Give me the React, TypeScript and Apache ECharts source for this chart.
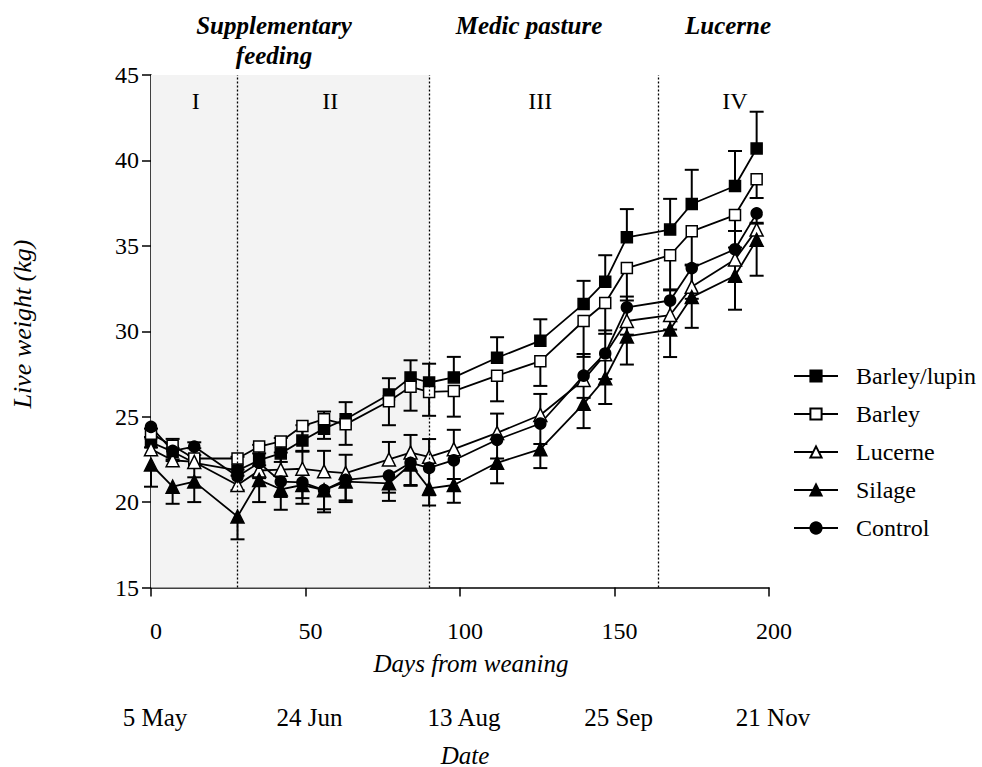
import React, { useEffect, useRef } from "react";
import * as echarts from "echarts";

const days = [0, 7, 14, 28, 35, 42, 49, 56, 63, 77, 84, 90, 98, 112, 126, 140, 147, 154, 168, 175, 189, 196];

const barleyLupin = [23.5, 22.95, 22.3, 21.85, 22.45, 22.85, 23.6, 24.3, 24.85, 26.3, 27.3, 27.0, 27.3, 28.45, 29.45, 31.6, 32.9, 35.5, 35.95, 37.45, 38.5, 40.7];
const barley = [24.0, 23.3, 22.55, 22.55, 23.25, 23.55, 24.45, 24.85, 24.55, 25.9, 26.75, 26.45, 26.5, 27.4, 28.25, 30.6, 31.65, 33.7, 34.45, 35.85, 36.8, 38.9];
const lucerne = [23.1, 22.45, 22.35, 21.0, 21.85, 21.9, 21.95, 21.8, 21.7, 22.5, 22.9, 22.65, 23.1, 24.05, 25.1, 27.15, 28.65, 30.6, 30.95, 32.6, 34.2, 35.95];
const silage = [22.2, 20.9, 21.2, 19.15, 21.3, 20.75, 21.0, 20.7, 21.2, 21.1, 22.2, 20.8, 21.0, 22.3, 23.1, 25.75, 27.25, 29.7, 30.1, 32.0, 33.25, 35.35];
const control = [24.4, 23.0, 23.25, 21.5, 22.3, 21.2, 21.15, 20.7, 21.3, 21.55, 22.3, 22.0, 22.45, 23.65, 24.6, 27.4, 28.7, 31.4, 31.8, 33.7, 34.8, 36.9];

// standard errors (drawn upward for Barley/lupin & Lucerne, downward for the others)
const errBarleyLupin = [0.8, 0.75, 1.2, 0.8, 0.9, 0.9, 0.9, 1.0, 1.0, 0.95, 1.0, 1.1, 1.2, 1.2, 1.25, 1.35, 1.55, 1.65, 1.8, 2.0, 2.05, 2.15];
const errBarley = [0.8, 0.8, 1.1, 1.0, 1.1, 1.2, 1.45, 1.15, 1.2, 1.4, 1.4, 1.4, 1.5, 1.5, 1.45, 2.1, 1.8, 1.9, 2.0, 2.0, 1.9, 1.1];
const errLucerne = [0.7, 0.7, 0.8, 0.9, 1.0, 1.0, 1.0, 1.2, 1.07, 1.02, 1.03, 1.04, 1.13, 1.13, 1.23, 1.52, 1.4, 1.43, 1.44, 1.3, 1.67, 0.4];
const errSilage = [1.3, 1.0, 1.2, 1.33, 1.3, 1.2, 1.1, 1.3, 1.2, 1.03, 1.25, 1.0, 1.04, 1.2, 1.11, 1.42, 1.51, 1.65, 1.61, 1.8, 1.99, 2.1];
const errControl = [0.6, 0.6, 0.5, 0.8, 0.9, 0.9, 0.92, 1.12, 1.2, 1.0, 1.3, 1.6, 1.1, 1.1, 1.2, 1.3, 1.5, 1.6, 1.7, 1.8, 1.9, 0.6];

const xTicks = [0, 50, 100, 150, 200];
const dateLabels = ["5 May", "24 Jun", "13 Aug", "25 Sep", "21 Nov"];
const phaseBoundaries = [28, 90, 164];
const shadedRange = [0, 90];
const phaseLabels = ["I", "II", "III", "IV"];
const phaseLabelDays = [14.5, 58, 126, 189];

const FONT = "Liberation Serif";

export default function App() {
  const ref = useRef<HTMLDivElement>(null);
  useEffect(() => {
    if (!ref.current) return;
    const chart = echarts.init(ref.current, undefined, { renderer: "svg" });

    const grid = { left: 151, top: 75, width: 618, height: 512.5 };
    const xPix = (d: number) => grid.left + (d / 200) * grid.width;

    const groups = [
      { name: "Barley/lupin", vals: barleyLupin, err: errBarleyLupin, dir: 1, symbol: "rect", size: 11, fill: "#000" },
      { name: "Barley", vals: barley, err: errBarley, dir: -1, symbol: "rect", size: 11, fill: "#fff" },
      { name: "Lucerne", vals: lucerne, err: errLucerne, dir: 1, symbol: "triangle", size: 13, fill: "#fff" },
      { name: "Silage", vals: silage, err: errSilage, dir: -1, symbol: "triangle", size: 13, fill: "#000" },
      { name: "Control", vals: control, err: errControl, dir: -1, symbol: "circle", size: 11, fill: "#000" },
    ];

    const errorSeries = groups.map((g) => ({
      type: "custom",
      name: g.name + " SE",
      z: 1,
      silent: true,
      data: days.map((d, i) => [d, g.vals[i], g.vals[i] + g.dir * g.err[i]]),
      renderItem: (params: any, api: any) => {
        const p0 = api.coord([api.value(0), api.value(1)]);
        const p1 = api.coord([api.value(0), api.value(2)]);
        const hw = 7;
        return {
          type: "group",
          children: [
            { type: "line", shape: { x1: p0[0], y1: p0[1], x2: p1[0], y2: p1[1] }, style: { stroke: "#000", lineWidth: 2 } },
            { type: "line", shape: { x1: p1[0] - hw, y1: p1[1], x2: p1[0] + hw, y2: p1[1] }, style: { stroke: "#000", lineWidth: 2 } },
          ],
        };
      },
    }));

    const lineSeries = groups.map((g, idx) => ({
      type: "line",
      name: g.name,
      z: 3,
      symbol: g.symbol,
      symbolSize: g.size,
      showAllSymbol: true,
      data: days.map((d, i) => [d, g.vals[i]]),
      lineStyle: { color: "#000", width: 1.8 },
      itemStyle: { color: g.fill, borderColor: "#000", borderWidth: 1.5 },
      emphasis: { disabled: true },
      ...(idx === 0
        ? {
            markArea: {
              silent: true,
              itemStyle: { color: "#f3f3f3" },
              data: [[{ xAxis: shadedRange[0] }, { xAxis: shadedRange[1] }]],
            },
            markLine: {
              silent: true,
              symbol: ["none", "none"],
              label: { show: false },
              lineStyle: { color: "#000", type: [2, 2], width: 1.3 },
              data: phaseBoundaries.map((b) => ({ xAxis: b })),
            },
          }
        : {}),
    }));

    const textStyle = { fill: "#000", fontFamily: FONT };

    chart.setOption({
      animation: false,
      backgroundColor: "#fff",
      textStyle: { fontFamily: FONT },
      grid: { left: grid.left, top: grid.top, width: grid.width, height: grid.height, containLabel: false },
      xAxis: [
        {
          type: "value",
          min: 0,
          max: 200,
          interval: 50,
          axisLine: { onZero: false, lineStyle: { color: "#000", width: 1.5 } },
          axisTick: { show: true, inside: false, length: 9, lineStyle: { color: "#000", width: 1.5 } },
          splitLine: { show: false },
          axisLabel: { color: "#000", fontFamily: FONT, fontSize: 24, margin: 31, padding: [0, 0, 0, 10] },
        },
        {
          type: "value",
          position: "bottom",
          offset: 109,
          min: 0,
          max: 200,
          interval: 50,
          axisLine: { show: false },
          axisTick: { show: false },
          splitLine: { show: false },
          axisLabel: {
            color: "#000",
            fontFamily: FONT,
            fontSize: 25,
            margin: 8,
            padding: [0, 0, 0, 8],
            formatter: (v: number) => dateLabels[xTicks.indexOf(v)] ?? "",
          },
        },
      ],
      yAxis: {
        type: "value",
        min: 15,
        max: 45,
        interval: 5,
        axisLine: { show: true, lineStyle: { color: "#000", width: 1.5 } },
        axisTick: { show: true, inside: false, length: 9, lineStyle: { color: "#000", width: 1.5 } },
        splitLine: { show: false },
        axisLabel: { color: "#000", fontFamily: FONT, fontSize: 24, margin: 12 },
      },
      legend: {
        data: groups.map((g) => g.name),
        orient: "vertical",
        left: 788,
        top: 359,
        itemWidth: 44,
        itemHeight: 14,
        itemGap: 14,
        selectedMode: false,
        textStyle: { color: "#000", fontFamily: FONT, fontSize: 24, padding: [0, 0, 0, 13] },
      },
      graphic: [
        { type: "text", x: 274, y: 25, style: { ...textStyle, text: "Supplementary", fontSize: 25, fontWeight: "bold", fontStyle: "italic", align: "center", verticalAlign: "middle" } },
        { type: "text", x: 274, y: 55, style: { ...textStyle, text: "feeding", fontSize: 25, fontWeight: "bold", fontStyle: "italic", align: "center", verticalAlign: "middle" } },
        { type: "text", x: 529, y: 25, style: { ...textStyle, text: "Medic pasture", fontSize: 25, fontWeight: "bold", fontStyle: "italic", align: "center", verticalAlign: "middle" } },
        { type: "text", x: 728, y: 25, style: { ...textStyle, text: "Lucerne", fontSize: 25, fontWeight: "bold", fontStyle: "italic", align: "center", verticalAlign: "middle" } },
        ...phaseLabels.map((t, i) => ({
          type: "text",
          x: xPix(phaseLabelDays[i]),
          y: 101,
          z: 10,
          style: { ...textStyle, text: t, fontSize: 24, align: "center", verticalAlign: "middle" },
        })),
        { type: "text", x: 471, y: 663, style: { ...textStyle, text: "Days from weaning", fontSize: 25, fontStyle: "italic", align: "center", verticalAlign: "middle" } },
        { type: "text", x: 465, y: 755, style: { ...textStyle, text: "Date", fontSize: 25, fontStyle: "italic", align: "center", verticalAlign: "middle" } },
        {
          type: "text",
          x: 22,
          y: 324,
          rotation: Math.PI / 2,
          style: { ...textStyle, text: "Live weight (kg)", fontSize: 26, fontStyle: "italic", align: "center", verticalAlign: "middle" },
        },
      ],
      series: [...errorSeries, ...lineSeries],
    });

    return () => chart.dispose();
  }, []);

  return <div ref={ref} style={{ position: "absolute", left: 0, top: 0, width: 982, height: 767 }} />;
}
